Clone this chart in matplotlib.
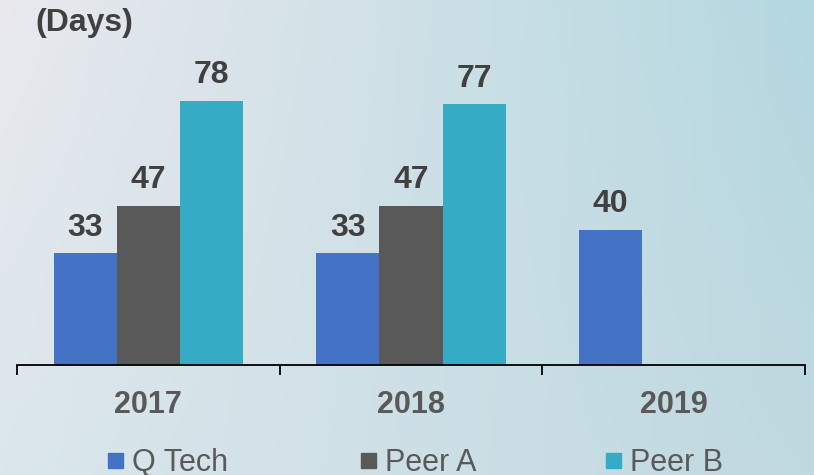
import numpy as np
import matplotlib
matplotlib.use("Agg")
import matplotlib.pyplot as plt
from matplotlib.patches import Rectangle
from matplotlib.colors import to_rgb

years = ["2017", "2018", "2019"]
series = ["Q Tech", "Peer A", "Peer B"]
q_tech = [33, 33, 40]
peer_a = [47, 47, None]
peer_b = [78, 77, None]
colors = ["#4472C4", "#595959", "#36ABC6"]

plt.rcParams["font.family"] = ["Liberation Sans", "DejaVu Sans"]

W, H = 814, 475
fig = plt.figure(figsize=(W / 100, H / 100), dpi=100)

# soft background gradient (grey-white on the left, light teal on the right)
bg = fig.add_axes([0, 0, 1, 1], zorder=-1)
tl, tr = np.array(to_rgb("#e9e9ee")), np.array(to_rgb("#b4d8e0"))
bl, br = np.array(to_rgb("#dbe7ec")), np.array(to_rgb("#c0d8e0"))
u = np.linspace(0, 1, 200)[None, :, None]
v = np.linspace(0, 1, 120)[:, None, None]
img = (1 - u) * (1 - v) * tl + u * (1 - v) * tr + (1 - u) * v * bl + u * v * br
bg.imshow(img, aspect="auto", extent=[0, 1, 0, 1], interpolation="bilinear")
bg.axis("off")

ax = fig.add_axes([17 / W, 110 / H, 788 / W, 365 / H])
ax.patch.set_alpha(0)

x = np.arange(len(years))
w = 0.24
for k, (vals, col) in enumerate(zip([q_tech, peer_a, peer_b], colors)):
    for i, val in enumerate(vals):
        if val is None:
            continue
        xi = x[i] + (k - 1) * w
        ax.bar(xi, val, width=w, color=col, linewidth=0)
        ax.annotate(str(val), (xi, val), xytext=(0, 12.6), textcoords="offset points",
                    ha="center", va="baseline", fontsize=23, fontweight="bold",
                    color="#404040")

ax.set_xlim(-0.5, 2.5)
ax.set_ylim(0, 107.8)
for s in ["top", "right", "left"]:
    ax.spines[s].set_visible(False)
ax.spines["bottom"].set_linewidth(1.3)
ax.set_yticks([])
ax.set_xticks([-0.5, 0.5, 1.5, 2.5])
ax.set_xticklabels([])
ax.tick_params(axis="x", direction="out", length=7.5, width=1.3, color="black")

for i, yr in enumerate(years):
    ax.annotate(yr, (x[i], 0), xycoords=("data", "axes fraction"), xytext=(0, -34.6),
                textcoords="offset points", ha="center", va="baseline", fontsize=22,
                fontweight="bold", color="#595959")

fig.text(35 / W, 1 - 31 / H, "(Days)", fontsize=23, fontweight="bold",
         color="#404040", va="baseline")

# legend row
leg_x = [108, 361, 606]
for lx, name, col in zip(leg_x, series, colors):
    fig.patches.append(Rectangle((lx / W, 1 - 468 / H), 15 / W, 15 / H,
                                 transform=fig.transFigure, color=col, figure=fig))
    fig.text((lx + 24) / W, 1 - 471 / H, name, fontsize=22, color="#595959",
             va="baseline")

fig.savefig("out.png", dpi=100)
